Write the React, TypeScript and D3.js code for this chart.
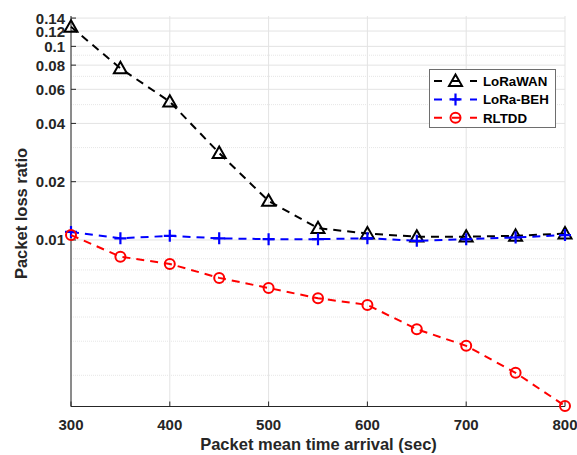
import React from "react";
import * as d3 from "d3";

const xValues = [300, 350, 400, 450, 500, 550, 600, 650, 700, 750, 800];
const loraWAN = [0.1262, 0.077, 0.0518, 0.0281, 0.0159, 0.0115, 0.0108, 0.0104, 0.0104, 0.0105, 0.0108];
const loraBEH = [0.011, 0.0102, 0.0105, 0.0102, 0.0101, 0.0101, 0.0102, 0.0099, 0.0101, 0.0103, 0.0106];
const rltdd = [0.0106, 0.0082, 0.00752, 0.00637, 0.00565, 0.005, 0.00462, 0.00346, 0.00284, 0.00206, 0.00139];
const xTicks = [300, 400, 500, 600, 700, 800];
const yTicks = [0.01, 0.02, 0.04, 0.06, 0.08, 0.1, 0.12, 0.14];
const yTickLabels = ["0.01", "0.02", "0.04", "0.06", "0.08", "0.1", "0.12", "0.14"];
const yMinorGrid = [0.002, 0.003, 0.004, 0.005, 0.006, 0.007, 0.008, 0.009, 0.03, 0.05, 0.07, 0.09];
const seriesNames = ["LoRaWAN", "LoRa-BEH", "RLTDD"];
const seriesColors = ["#000000", "#0000ff", "#ff0000"];

const W = 577, H = 455;
const left = 71, right = 565, top = 16, bottom = 406.5;

export default function App() {
  const x = d3.scaleLinear().domain([300, 800]).range([left, right]);
  const y = d3.scaleLog().domain([0.00138, 0.1435]).range([bottom, top]);
  const series = [loraWAN, loraBEH, rltdd];
  const line = d3.line<number>().x((_, i) => x(xValues[i])).y((d) => y(d));
  const font = "'Liberation Sans', Arial, Helvetica, sans-serif";

  const marker = (k: number, cx: number, cy: number, key: string) => {
    const c = seriesColors[k];
    if (k === 0) {
      const s = 6.5;
      return (
        <path key={key} d={`M${cx},${cy - s} L${cx + s},${cy + s * 0.75} L${cx - s},${cy + s * 0.75} Z`}
          fill="none" stroke={c} strokeWidth={2} />
      );
    }
    if (k === 1) {
      const s = 6;
      return (
        <path key={key} d={`M${cx - s},${cy} H${cx + s} M${cx},${cy - s} V${cy + s}`} stroke={c} strokeWidth={2.2} fill="none" />
      );
    }
    return <circle key={key} cx={cx} cy={cy} r={5} fill="none" stroke={c} strokeWidth={2} />;
  };

  return (
    <svg width={W} height={H} style={{ position: "absolute", left: 0, top: 0, background: "#fff" }}>
      <rect x={0} y={0} width={W} height={H} fill="#fff" />
      {xTicks.map((t) => (
        <line key={"gx" + t} x1={x(t)} x2={x(t)} y1={top} y2={bottom} stroke="#e3e3e3" strokeWidth={1} />
      ))}
      {yMinorGrid.map((t) => (
        <line key={"gm" + t} x1={left} x2={right} y1={y(t)} y2={y(t)} stroke="#e6e6e6" strokeWidth={1} strokeDasharray="1,1" />
      ))}
      {yTicks.map((t) => (
        <line key={"gy" + t} x1={left} x2={right} y1={y(t)} y2={y(t)} stroke="#e3e3e3" strokeWidth={1} />
      ))}
      <line x1={left} x2={left} y1={top} y2={bottom} stroke="#262626" strokeWidth={1} />
      <line x1={left} x2={right} y1={bottom} y2={bottom} stroke="#262626" strokeWidth={1} />
      {xTicks.map((t) => (
        <g key={"tx" + t}>
          <line x1={x(t)} x2={x(t)} y1={bottom} y2={bottom - 5} stroke="#262626" />
          <text x={x(t)} y={bottom + 23} textAnchor="middle" fontFamily={font} fontWeight="bold" fontSize={15} fill="#262626">{t}</text>
        </g>
      ))}
      {yTicks.map((t, i) => (
        <g key={"ty" + t}>
          <line x1={left} x2={left + 5} y1={y(t)} y2={y(t)} stroke="#262626" />
          <text x={left - 6} y={y(t) + 5.5} textAnchor="end" fontFamily={font} fontWeight="bold" fontSize={15} fill="#262626">{yTickLabels[i]}</text>
        </g>
      ))}
      {series.map((s, k) => (
        <g key={"s" + k}>
          <path d={line(s) || ""} fill="none" stroke={seriesColors[k]} strokeWidth={2} strokeDasharray="8,6" />
          {s.map((v, i) => marker(k, x(xValues[i]), y(v), `m${k}-${i}`))}
        </g>
      ))}
      <text x={318.5} y={450} textAnchor="middle" fontFamily={font} fontWeight="bold" fontSize={16.5} fill="#262626">Packet mean time arrival (sec)</text>
      <text transform={`translate(27,213.5) rotate(-90)`} textAnchor="middle" fontFamily={font} fontWeight="bold" fontSize={16.5} fill="#262626">Packet loss ratio</text>
      <rect x={429.5} y={69.5} width={126} height={58} fill="#fff" stroke="#6e6e6e" strokeWidth={1} />
      {seriesNames.map((n, k) => {
        const ly = 81 + k * 18.4;
        return (
          <g key={"lg" + k}>
            <line x1={434} x2={477} y1={ly} y2={ly} stroke={seriesColors[k]} strokeWidth={2} strokeDasharray="8,10" />
            {marker(k, 455.5, ly, "lm" + k)}
            <text x={483} y={ly + 5} fontFamily={font} fontWeight="bold" fontSize={13.3} fill="#000">{n}</text>
          </g>
        );
      })}
    </svg>
  );
}
